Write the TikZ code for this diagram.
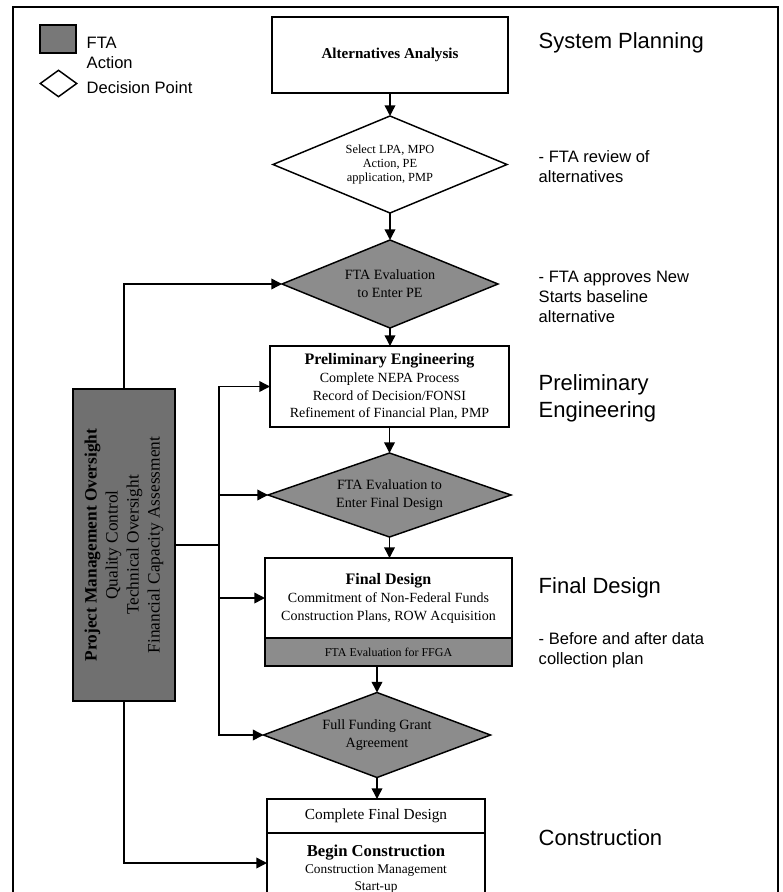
\documentclass[tikz,border=0pt]{standalone}
\usepackage{fontspec}
\setmainfont{Liberation Serif}
\newfontfamily\sansf{Liberation Sans}
\usetikzlibrary{shapes.geometric,arrows.meta}
\definecolor{ftagray}{RGB}{140,140,140}
\definecolor{pmogray}{RGB}{112,112,112}
\definecolor{leggray}{RGB}{120,120,120}
\newdimen\pxu
\pxu=0.75pt
\begin{document}
\begin{tikzpicture}[x=0.75pt,y=-0.75pt,
  line width=1.1pt,
  arr/.style={-{Triangle[length=8pt,width=8pt]}},
  boxn/.style={draw,rectangle,inner sep=0pt,outer sep=0pt,align=center,fill=white},
  dec/.style={draw,diamond,inner sep=0pt,outer sep=0pt,align=center,aspect=2.5},
  act/.style={dec,fill=ftagray,font=\fontsize{10.6}{13.5}\selectfont},
  lab/.style={font=\sansf\fontsize{16.5}{20}\selectfont,anchor=west,align=left,inner sep=0pt},
  note/.style={font=\sansf\fontsize{12.4}{15}\selectfont,anchor=west,align=left,inner sep=0pt},
]
\useasboundingbox (0,0) rectangle (782,892);
\clip (0,0) rectangle (782,892);

% outer frame
\draw[line width=1.2pt] (13,900) -- (13,7) -- (778,7) -- (778,900);

% legend
\node[draw,fill=leggray,minimum width=36\pxu,minimum height=28\pxu,inner sep=0pt] (lsq) at (58,39) {};
\node[note] (lfta) at (86,53) {FTA\\Action};
\node[draw,diamond,fill=white,minimum width=37\pxu,minimum height=27\pxu,inner sep=0pt] (ldec) at (58.5,83.5) {};
\node[note] (ldp) at (86,88) {Decision Point};

% main flow
\node[boxn,minimum width=236\pxu,minimum height=76\pxu,font=\bfseries\fontsize{11.3}{13}\selectfont] (aa) at (390,55) {Alternatives Analysis};
\node[dec,fill=white,minimum width=234\pxu,minimum height=97\pxu,font=\fontsize{9.3}{10.2}\selectfont] (d1) at (390,164.5) {Select LPA, MPO\\Action, PE\\application, PMP};
\node[act,minimum width=216\pxu,minimum height=88\pxu] (d2) at (390,284) {FTA Evaluation\\to Enter PE};
\node[boxn,minimum width=239\pxu,minimum height=81\pxu,font=\fontsize{10.5}{13}\selectfont] (pe) at (389.5,386.5) {{\bfseries\fontsize{12}{14}\selectfont Preliminary Engineering}\\[1pt] Complete NEPA Process\\ Record of Decision/FONSI\\ Refinement of Financial Plan, PMP};
\node[act,minimum width=243\pxu,minimum height=84\pxu] (d3) at (389.5,495) {FTA Evaluation to\\Enter Final Design};
\node[boxn,minimum width=247\pxu,minimum height=80\pxu,font=\fontsize{10.5}{13}\selectfont] (fd) at (388.5,598) {{\bfseries\fontsize{12}{14}\selectfont Final Design}\\[1pt] Commitment of Non-Federal Funds\\ Construction Plans, ROW Acquisition};
\node[boxn,fill=ftagray,minimum width=247\pxu,minimum height=28\pxu,font=\fontsize{9}{10}\selectfont] (fdb) at (388.5,652) {FTA Evaluation for FFGA};
\node[act,minimum width=227\pxu,minimum height=85\pxu] (d4) at (377,735) {Full Funding Grant\\Agreement};
\node[boxn,minimum width=218\pxu,minimum height=34\pxu,font=\fontsize{11.5}{13}\selectfont] (c1) at (376,816) {Complete Final Design};
\node[boxn,minimum width=218\pxu,minimum height=72\pxu,font=\fontsize{10}{12.5}\selectfont] (c2) at (376,869) {{\bfseries\fontsize{12.5}{14}\selectfont Begin Construction}\\ Construction Management\\ Start-up};

% project management oversight
\node[draw,fill=pmogray,minimum width=102\pxu,minimum height=312\pxu,inner sep=0pt] (pmo) at (124,545) {};
\node[rotate=90,align=center,inner sep=0pt,font=\fontsize{13}{15.8}\selectfont] (pmot) at (pmo.center) {{\bfseries Project Management Oversight}\\ Quality Control\\ Technical Oversight\\ Financial Capacity Assessment};

% right-hand labels
\node[lab] (sp) at (538,43) {System Planning};
\node[note] (rv) at (538,167) {- FTA review of\\alternatives};
\node[note] (ap) at (538,297) {- FTA approves New\\Starts baseline\\alternative};
\node[lab] (pel) at (538,398.5) {Preliminary\\Engineering};
\node[lab] (fdl) at (538,588) {Final Design};
\node[note] (bal) at (538,650) {- Before and after data\\collection plan};
\node[lab] (col) at (538,838) {Construction};

% connectors
\draw[arr] (aa.south) -- (aa.south |- d1.north);
\draw[arr] (d1.south) -- (d1.south |- d2.north);
\draw[arr] (d2.south) -- (d2.south |- pe.north);
\draw[arr] (pe.south) -- (pe.south |- d3.north);
\draw[arr] (d3.south) -- (d3.south |- fd.north);
\draw[arr] (fdb.south -| d4.north) -- (d4.north);
\draw[arr] (d4.south) -- (d4.south |- c1.north);

\coordinate (bus) at (219,545);
\draw (pmo.east) -- (bus);
\draw[arr] (bus) |- (pe.west);
\draw[arr] (bus) |- (d3.west);
\draw[arr] (bus) |- (fd.west);
\draw[arr] (bus) |- (d4.west);
\draw[arr] (pmo.north) |- (d2.west);
\draw[arr] (pmo.south) |- ([yshift=4.5pt]c2.west);
\end{tikzpicture}
\end{document}
